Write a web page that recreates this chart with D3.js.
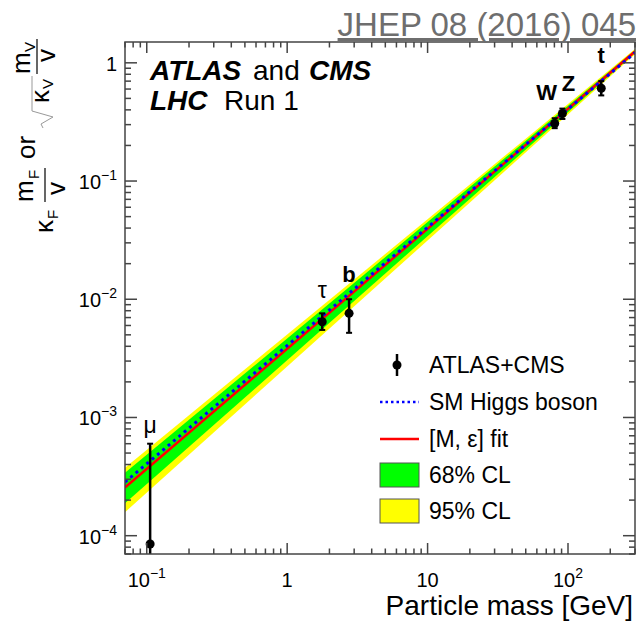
<!DOCTYPE html>
<html>
<head>
<meta charset="utf-8">
<script src="https://cdn.jsdelivr.net/npm/d3@7"></script>
<style>
  body { margin: 0; background: #fff; }
  text { font-family: "Liberation Sans", Arial, Helvetica, sans-serif; }
</style>
</head>
<body>
<div id="chart"></div>
<script>
//All the variables
var particles = ["μ", "τ", "b", "W", "Z", "t"];
var masses = [0.1057, 1.777, 2.76, 80.4, 91.19, 172.5];
var yValues = [8.5e-5, 6.45e-3, 7.6e-3, 0.307, 0.373, 0.61];
var yLow = [6.0e-5, 5.5e-3, 5.2e-3, 0.28, 0.335, 0.53];
var yHigh = [6.0e-4, 7.6e-3, 1.0e-2, 0.34, 0.41, 0.70];

// endpoints of the straight lines / bands (mass = 0.07 and 300 GeV)
var lineMass = [0.07, 300];
var smLine = [2.843e-4, 1.218];
var fitLine = [2.56e-4, 1.245];
var band68Low = [1.88e-4, 1.21];
var band68High = [3.40e-4, 1.28];
var band95Low = [1.58e-4, 1.183];
var band95High = [3.76e-4, 1.31];

// tick labels
var xTickValues = [0.1, 1, 10, 100];
var xTickBase = ["10", "1", "10", "10"];
var xTickExp = ["−1", "", "", "2"];
var yTickValues = [1, 0.1, 0.01, 0.001, 0.0001];
var yTickBase = ["1", "10", "10", "10", "10"];
var yTickExp = ["", "−1", "−2", "−3", "−4"];

var legendLabels = ["ATLAS+CMS", "SM Higgs boson", "[M, ε] fit", "68% CL", "95% CL"];

// layout (pixels)
var w = 639, h = 623;
var margin = { top: 42, right: 4, bottom: 69, left: 125 };
var width = w - margin.left - margin.right;
var height = h - margin.top - margin.bottom;
var labelDx = [0, 0, 0, -8, 6, 0];
var labelDy = [-11, -15, -17, -18, -18, -18];

var svg = d3.select("#chart")
  .append("svg")
    .attr("width", w)
    .attr("height", h);

svg.append("rect").attr("width", w).attr("height", h).attr("fill", "#fff");

var plot = svg.append("g")
  .attr("transform", "translate(" + margin.left + "," + margin.top + ")");

// Scales
var x = d3.scaleLog().domain([0.07, 300]).range([0, width]);
var y = d3.scaleLog().domain([7e-5, 1.5]).range([height, 0]);

plot.append("clipPath").attr("id", "clip")
  .append("rect").attr("width", width).attr("height", height);

var inner = plot.append("g").attr("clip-path", "url(#clip)");

// Bands
function bandPoints(lo, hi) {
  return lineMass.map(function(m, i) { return { m: m, lo: lo[i], hi: hi[i] }; });
}
var area = d3.area()
  .x(function(d) { return x(d.m); })
  .y0(function(d) { return y(d.lo); })
  .y1(function(d) { return y(d.hi); });

inner.append("path").datum(bandPoints(band95Low, band95High))
  .attr("d", area).attr("fill", "#ffff00");
inner.append("path").datum(bandPoints(band68Low, band68High))
  .attr("d", area).attr("fill", "#00ff00");

// Lines
function linePoints(vals) {
  return lineMass.map(function(m, i) { return { m: m, v: vals[i] }; });
}
var line = d3.line()
  .x(function(d) { return x(d.m); })
  .y(function(d) { return y(d.v); });

inner.append("path").datum(linePoints(fitLine))
  .attr("d", line).attr("fill", "none")
  .attr("stroke", "#ff0000").attr("stroke-width", 2.5);
inner.append("path").datum(linePoints(smLine))
  .attr("d", line).attr("fill", "none")
  .attr("stroke", "#0000ff").attr("stroke-width", 3)
  .attr("stroke-dasharray", "3,4");

// Error bars and points
var idx = d3.range(particles.length);
inner.selectAll("line.err")
  .data(idx).enter().append("line")
  .attr("x1", function(i) { return x(masses[i]); })
  .attr("x2", function(i) { return x(masses[i]); })
  .attr("y1", function(i) { return y(yLow[i]); })
  .attr("y2", function(i) { return y(yHigh[i]); })
  .attr("stroke", "#000").attr("stroke-width", 2.5);
[yLow, yHigh].forEach(function(arr) {
  inner.selectAll(null)
    .data(idx).enter().append("line")
    .attr("x1", function(i) { return x(masses[i]) - 3; })
    .attr("x2", function(i) { return x(masses[i]) + 3; })
    .attr("y1", function(i) { return y(arr[i]); })
    .attr("y2", function(i) { return y(arr[i]); })
    .attr("stroke", "#000").attr("stroke-width", 2);
});
inner.selectAll("circle")
  .data(idx).enter().append("circle")
  .attr("cx", function(i) { return x(masses[i]); })
  .attr("cy", function(i) { return y(yValues[i]); })
  .attr("r", 4.5).attr("fill", "#000");

// particle labels
plot.selectAll("text.plab")
  .data(idx).enter().append("text")
  .attr("x", function(i) { return x(masses[i]) + labelDx[i]; })
  .attr("y", function(i) { return y(yHigh[i]) + labelDy[i]; })
  .attr("text-anchor", "middle")
  .attr("font-size", function(i) { return i < 2 ? 23 : 22; })
  .attr("font-weight", function(i) { return i < 2 ? "normal" : "bold"; })
  .text(function(i) { return particles[i]; });

// Axes frame and ticks
var axisColor = "#444";
var xt = x.ticks();
var yt = y.ticks();
function isMajor(v) { return Math.abs(Math.log10(v) - Math.round(Math.log10(v))) < 1e-6; }

xt.forEach(function(v) {
  var len = isMajor(v) ? 11 : 5.5;
  plot.append("line").attr("x1", x(v)).attr("x2", x(v))
    .attr("y1", height).attr("y2", height - len)
    .attr("stroke", axisColor).attr("stroke-width", 1.5);
  plot.append("line").attr("x1", x(v)).attr("x2", x(v))
    .attr("y1", 0).attr("y2", len)
    .attr("stroke", axisColor).attr("stroke-width", 1.5);
});
yt.forEach(function(v) {
  var len = isMajor(v) ? 12 : 6;
  plot.append("line").attr("x1", 0).attr("x2", len)
    .attr("y1", y(v)).attr("y2", y(v))
    .attr("stroke", axisColor).attr("stroke-width", 1.5);
  plot.append("line").attr("x1", width).attr("x2", width - len)
    .attr("y1", y(v)).attr("y2", y(v))
    .attr("stroke", axisColor).attr("stroke-width", 1.5);
});
plot.append("rect").attr("width", width).attr("height", height)
  .attr("fill", "none").attr("stroke", axisColor).attr("stroke-width", 1.5);

// tick labels
xTickValues.forEach(function(v, i) {
  var t = plot.append("text")
    .attr("x", x(v)).attr("y", height + 33)
    .attr("text-anchor", "middle").attr("font-size", 20);
  t.append("tspan").text(xTickBase[i]);
  if (xTickExp[i]) t.append("tspan").attr("dy", -9).attr("font-size", 14).text(xTickExp[i]);
});
yTickValues.forEach(function(v, i) {
  var t = plot.append("text")
    .attr("x", -8).attr("y", y(v) + 8)
    .attr("text-anchor", "end").attr("font-size", 20);
  t.append("tspan").text(yTickBase[i]);
  if (yTickExp[i]) t.append("tspan").attr("dy", -9).attr("font-size", 14).text(yTickExp[i]);
});

// x axis title
svg.append("text")
  .attr("x", 633).attr("y", 615)
  .attr("text-anchor", "end").attr("font-size", 28)
  .text("Particle mass [GeV]");

// y axis title (rotated)
var yl = svg.append("g").attr("transform", "translate(45,240) rotate(-90)");
function ytxt(u, v, s, size) {
  return yl.append("text").attr("x", u).attr("y", v).attr("font-size", size).text(s);
}
ytxt(7, 8, "κ", 26);
ytxt(21, 13, "F", 15);
ytxt(38, -12, "m", 26);
ytxt(61, -6, "F", 15);
yl.append("line").attr("x1", 38).attr("x2", 72).attr("y1", 0).attr("y2", 0)
  .attr("stroke", "#000").attr("stroke-width", 1.2);
ytxt(45, 20, "v", 26);
ytxt(81, -10, "or", 26);
// sqrt
yl.append("path")
  .attr("d", "M112,-2 L116,-4 L123,8 L129,-13 L164,-13")
  .attr("fill", "none").attr("stroke", "#999").attr("stroke-width", 1);
ytxt(137, 4, "κ", 26);
ytxt(151, 8, "V", 15);
ytxt(166, -15, "m", 26);
ytxt(188, -10, "V", 15);
yl.append("line").attr("x1", 166).attr("x2", 201).attr("y1", -8).attr("y2", -8)
  .attr("stroke", "#000").attr("stroke-width", 1.2);
ytxt(178, 10, "v", 26);

// ATLAS and CMS
var t1 = svg.append("text").attr("x", 150).attr("y", 80).attr("font-size", 28);
t1.append("tspan").attr("font-weight", "bold").attr("font-style", "italic").text("ATLAS");
t1.append("tspan").attr("x", 253).text("and");
t1.append("tspan").attr("x", 309).attr("font-weight", "bold").attr("font-style", "italic").text("CMS");
var t2 = svg.append("text").attr("x", 150).attr("y", 110).attr("font-size", 28);
t2.append("tspan").attr("font-weight", "bold").attr("font-style", "italic").text("LHC");
t2.append("tspan").attr("x", 224).text("Run 1");

// Legend
var lx = 380, ly = [365, 402, 439, 475, 511];
var legend = svg.append("g");
legend.append("line").attr("x1", lx + 17).attr("x2", lx + 17)
  .attr("y1", ly[0] - 11).attr("y2", ly[0] + 11)
  .attr("stroke", "#000").attr("stroke-width", 2.5);
legend.append("circle").attr("cx", lx + 17).attr("cy", ly[0]).attr("r", 4.5).attr("fill", "#000");
legend.append("line").attr("x1", lx).attr("x2", lx + 39)
  .attr("y1", ly[1]).attr("y2", ly[1])
  .attr("stroke", "#0000ff").attr("stroke-width", 2.5).attr("stroke-dasharray", "2.5,3");
legend.append("line").attr("x1", lx).attr("x2", lx + 39)
  .attr("y1", ly[2]).attr("y2", ly[2])
  .attr("stroke", "#ff0000").attr("stroke-width", 2.5);
legend.append("rect").attr("x", lx).attr("y", ly[3] - 12).attr("width", 39).attr("height", 24)
  .attr("fill", "#00ff00").attr("stroke", "#555").attr("stroke-width", 1);
legend.append("rect").attr("x", lx).attr("y", ly[4] - 12).attr("width", 39).attr("height", 24)
  .attr("fill", "#ffff00").attr("stroke", "#555").attr("stroke-width", 1);
legend.selectAll("text.leg")
  .data(legendLabels).enter().append("text")
  .attr("x", 429).attr("y", function(d, i) { return ly[i] + 8; })
  .attr("font-size", 23)
  .text(function(d) { return d; });

// JHEP reference
svg.append("text")
  .attr("x", 636).attr("y", 36)
  .attr("text-anchor", "end").attr("font-size", 33)
  .attr("fill", "#6e6e6e").attr("text-decoration", "underline")
  .text("JHEP 08 (2016) 045");
</script>
</body>
</html>
